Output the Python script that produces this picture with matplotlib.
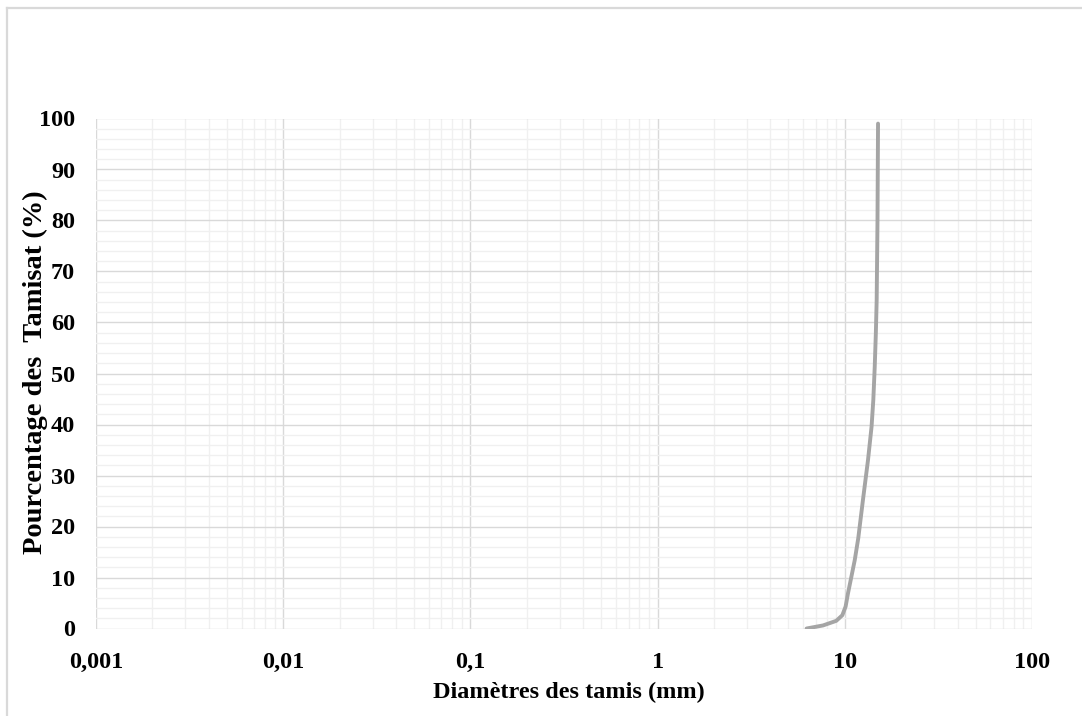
import matplotlib
matplotlib.use("Agg")
import matplotlib.pyplot as plt
from matplotlib.ticker import FixedLocator, LogLocator, MultipleLocator, NullFormatter
from matplotlib.lines import Line2D

# Sieve diameters (mm) and cumulative passing percentage
diametres = [6.25, 7.65, 9.0, 9.7, 10.1, 10.4, 10.85, 11.3, 11.8, 12.5,
             13.3, 13.9, 14.2, 14.45, 14.65, 14.8, 14.95, 15.05]
tamisat = [0.0, 0.6, 1.5, 2.6, 4.3, 6.9, 10.2, 13.4, 17.7, 25.2,
           33.0, 39.6, 44.8, 51.3, 57.9, 64.4, 80.0, 99.0]

x_ticks = [0.001, 0.01, 0.1, 1, 10, 100]
x_tick_labels = ["0,001", "0,01", "0,1", "1", "10", "100"]
y_ticks = [0, 10, 20, 30, 40, 50, 60, 70, 80, 90, 100]

font = "Liberation Serif"
W, H = 1082, 716

fig = plt.figure(figsize=(W / 100, H / 100), dpi=100)
ax = fig.add_axes([96 / W, 1 - 628.5 / H, 936 / W, 510 / H])

ax.plot(diametres, tamisat, color="#A5A5A5", lw=2.8, solid_capstyle="round",
        solid_joinstyle="round", zorder=3)

ax.set_xscale("log")
ax.set_xlim(0.001, 100)
ax.set_ylim(0, 100)

ax.xaxis.set_major_locator(FixedLocator(x_ticks))
ax.set_xticklabels(x_tick_labels)
ax.xaxis.set_minor_locator(LogLocator(base=10, subs=range(2, 10), numticks=20))
ax.xaxis.set_minor_formatter(NullFormatter())
ax.yaxis.set_major_locator(FixedLocator(y_ticks))
ax.yaxis.set_minor_locator(MultipleLocator(2))

ax.grid(which="major", color="#D9D9D9", lw=1.0)
ax.grid(which="minor", color="#F0F0F0", lw=1.0)
ax.set_axisbelow(True)
for s in ax.spines.values():
    s.set_visible(False)

ax.tick_params(which="both", length=0)
ax.tick_params(axis="x", pad=17)
ax.tick_params(axis="y", pad=15)
for lab in ax.get_xticklabels() + ax.get_yticklabels():
    lab.set_fontfamily(font)
    lab.set_fontweight("bold")
    lab.set_fontsize(17.5)

# Axis titles
fig.text(569 / W, 1 - 692 / H, "Diamètres des tamis (mm)", fontfamily=font,
         fontweight="bold", fontsize=17.5, ha="center", va="center")
fig.text(35 / W, 1 - 372 / H, "Pourcentage des  Tamisat (%)", fontfamily=font,
         fontweight="bold", fontsize=20.5, rotation=90, ha="center", va="center")

# Light outer frame around the chart area
fig.add_artist(Line2D([7 / W, 1.0], [1 - 8 / H, 1 - 8 / H],
                      transform=fig.transFigure, color="#D9D9D9", lw=1.6))
fig.add_artist(Line2D([7 / W, 7 / W], [0.0, 1 - 8 / H],
                      transform=fig.transFigure, color="#D9D9D9", lw=1.6))

fig.savefig("out.png", dpi=100, facecolor="white")
